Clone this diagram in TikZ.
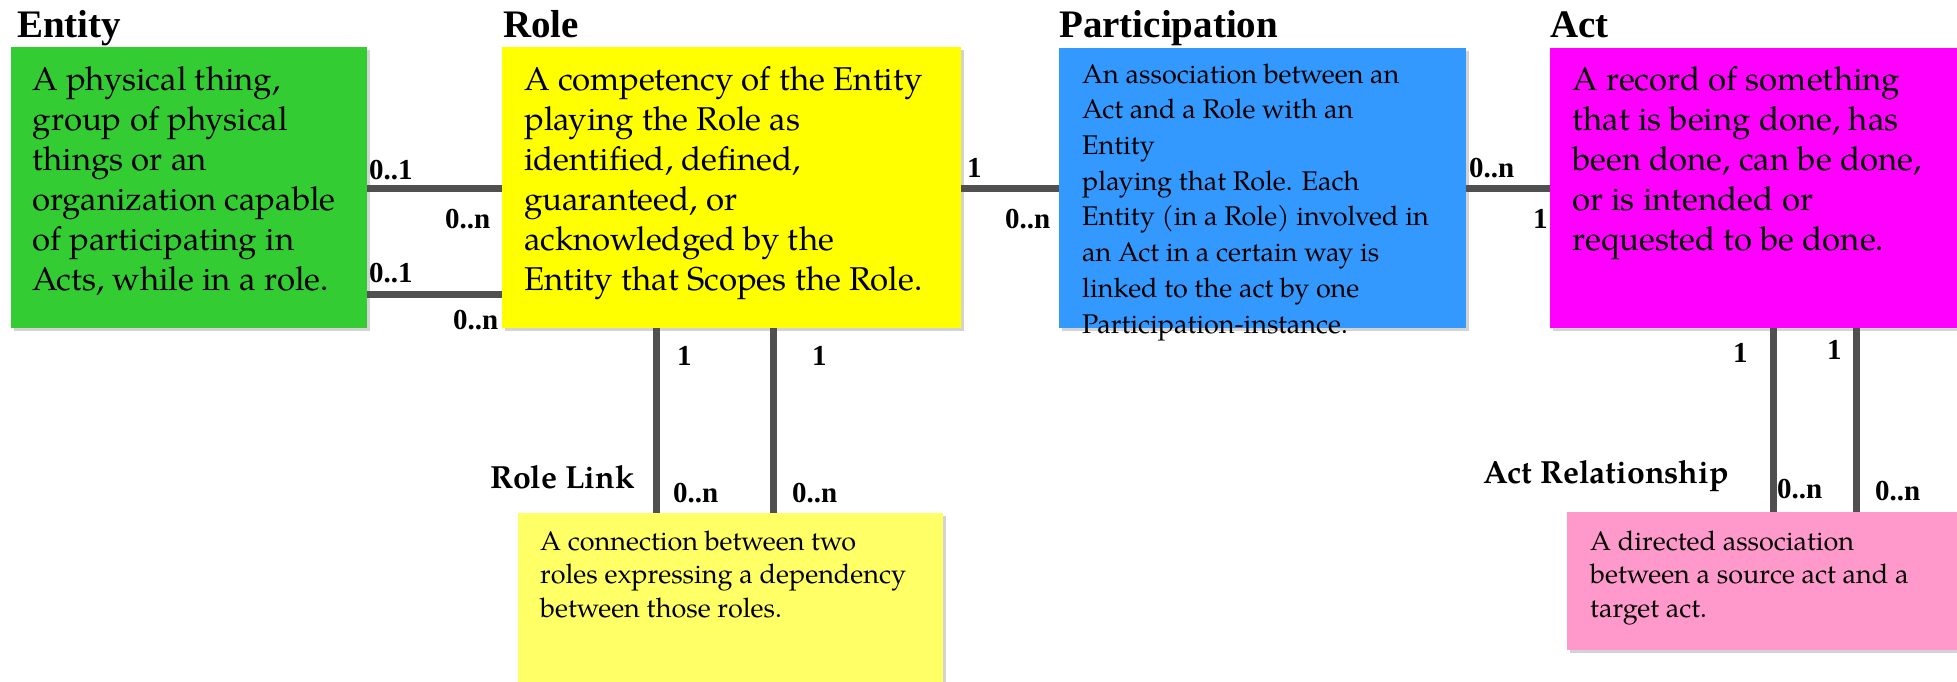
\documentclass[tikz,border=0pt]{standalone}
\usepackage{fontspec}
\setmainfont{Liberation Serif}
\newfontfamily\pala{texgyrepagella}[Extension=.otf, UprightFont=*-regular, BoldFont=*-bold]
\newfontfamily\tnr{Liberation Serif}
\usetikzlibrary{shadows}
\definecolor{cgreen}{RGB}{51,204,51}
\definecolor{cyellow}{RGB}{255,255,0}
\definecolor{cblue}{RGB}{51,153,255}
\definecolor{cmagenta}{RGB}{255,0,255}
\definecolor{clyellow}{RGB}{255,255,102}
\definecolor{cpink}{RGB}{255,153,204}
\definecolor{cconn}{RGB}{80,80,80}
\tikzset{
  box/.style={rectangle, draw=none, inner sep=0pt, anchor=north west,
    drop shadow={shadow xshift=3pt, shadow yshift=-3pt, opacity=0.35}},
  conn/.style={draw=cconn, line width=7pt},
  card/.style={font=\tnr\bfseries\fontsize{29}{34}\selectfont, inner sep=0pt, anchor=base west},
  title/.style={font=\tnr\bfseries\fontsize{39}{44}\selectfont, inner sep=0pt, anchor=base west},
  subtitle/.style={font=\pala\bfseries\fontsize{32}{38}\selectfont, inner sep=0pt, anchor=base west},
  bigtxt/.style={inner sep=0pt, anchor=north west, align=left, font=\pala\fontsize{33}{40}\selectfont},
  midtxt/.style={inner sep=0pt, anchor=north west, align=left, font=\pala\fontsize{27}{35.7}\selectfont},
  smalltxt/.style={inner sep=0pt, anchor=north west, align=left, font=\pala\fontsize{27}{33.5}\selectfont},
}
\begin{document}
\begin{tikzpicture}[x=1pt, y=-1pt]
\useasboundingbox (0,0) rectangle (1957,681);
\clip (0,0) rectangle (1957,681);
% boxes
\node[box, fill=cgreen, minimum width=356pt, minimum height=281pt] (entity) at (11,47) {};
\node[box, fill=cyellow, minimum width=459pt, minimum height=281pt] (role) at (502,47) {};
\node[box, fill=cblue, minimum width=407pt, minimum height=280pt] (part) at (1059,48) {};
\node[box, fill=cmagenta, minimum width=420pt, minimum height=280pt] (act) at (1550,48) {};
\node[box, fill=clyellow, minimum width=425pt, minimum height=190pt] (rolelink) at (518,513) {};
\node[box, fill=cpink, minimum width=400pt, minimum height=138pt] (actrel) at (1567,512) {};
% connectors
\draw[conn] (entity.east |- 0,188) -- (role.west |- 0,188);
\draw[conn] (entity.east |- 0,294) -- (role.west |- 0,294);
\draw[conn] (role.east |- 0,188) -- (part.west |- 0,188);
\draw[conn] (part.east |- 0,188) -- (act.west |- 0,188);
\draw[conn] (role.south -| 656,0) -- (rolelink.north -| 656,0);
\draw[conn] (role.south -| 773,0) -- (rolelink.north -| 773,0);
\draw[conn] (act.south -| 1773,0) -- (actrel.north -| 1773,0);
\draw[conn] (act.south -| 1856,0) -- (actrel.north -| 1856,0);
% titles
\node[title] (tentity) at (17,37) {Entity};
\node[title] (trole) at (503,37) {Role};
\node[title] (tpart) at (1059,37) {Participation};
\node[title] (tact) at (1550,37) {Act};
\node[subtitle] (trolelink) at (490,488) {Role Link};
\node[subtitle] (tactrel) at (1483,483) {Act Relationship};
% texts
\node[bigtxt] (xentity) at (32,62) {\strut A physical thing,\\group of physical\\things or an\\organization capable\\of participating in\\Acts, while in a role.};
\node[bigtxt] (xrole) at (524,62) {\strut A competency of the Entity\\playing the Role as\\identified, defined,\\guaranteed, or\\acknowledged by the\\Entity that Scopes the Role.};
\node[midtxt] (xpart) at (1082,58) {\strut An association between an\\Act and a Role with an\\Entity\\playing that Role. Each\\Entity (in a Role) involved in\\an Act in a certain way is\\linked to the act by one\\Participation-instance.};
\node[bigtxt] (xact) at (1572,62) {\strut A record of something\\that is being done, has\\been done, can be done,\\or is intended or\\requested to be done.};
\node[smalltxt] (xrolelink) at (540,526.6) {\strut A connection between two\\roles expressing a dependency\\between those roles.};
\node[smalltxt] (xactrel) at (1590,526.6) {\strut A directed association\\between a source act and a\\target act.};
% cardinalities
\node[card] (c1) at (369,179) {0..1};
\node[card] (c2) at (445,228) {0..n};
\node[card] (c3) at (369,282) {0..1};
\node[card] (c4) at (453,329) {0..n};
\node[card] (c5) at (967,177) {1};
\node[card] (c6) at (1005,228) {0..n};
\node[card] (c7) at (1469,177) {0..n};
\node[card] (c8) at (1533,228) {1};
\node[card] (c9) at (677,365) {1};
\node[card] (c10) at (812,365) {1};
\node[card] (c11) at (673,502) {0..n};
\node[card] (c12) at (792,502) {0..n};
\node[card] (c13) at (1733,362) {1};
\node[card] (c14) at (1827,359) {1};
\node[card] (c15) at (1777,498) {0..n};
\node[card] (c16) at (1875,500) {0..n};
\end{tikzpicture}
\end{document}
